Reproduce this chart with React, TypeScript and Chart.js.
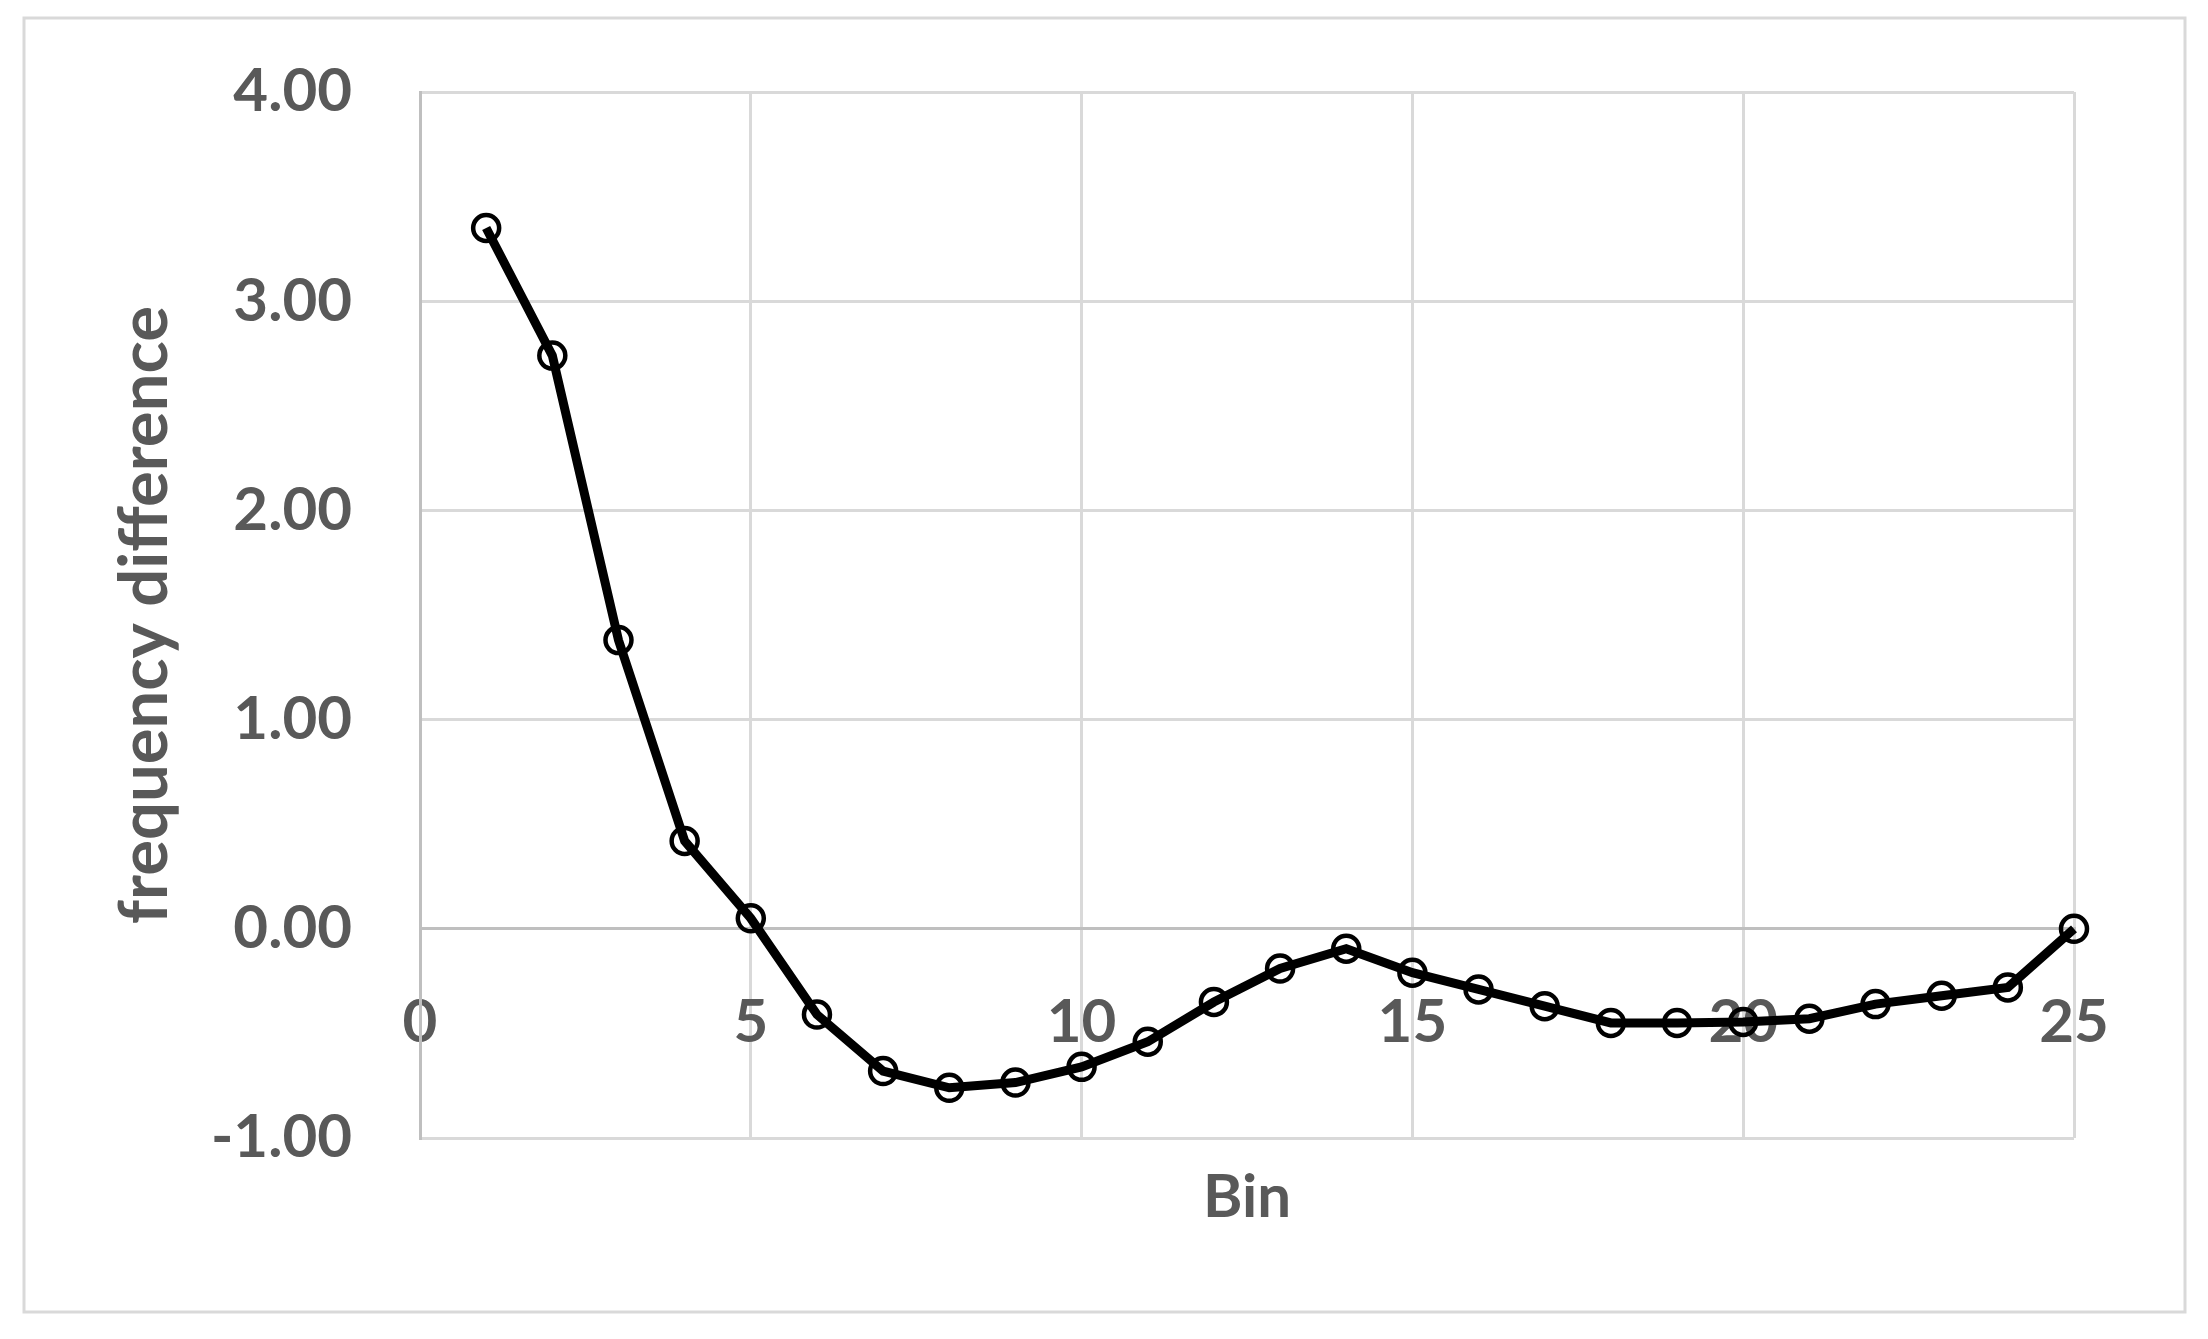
import React, { useEffect, useRef } from "react";
import { Chart, registerables } from "chart.js";

Chart.register(...registerables);

const bins: number[] = [1, 2, 3, 4, 5, 6, 7, 8, 9, 10, 11, 12, 13, 14, 15, 16, 17, 18, 19, 20, 21, 22, 23, 24, 25];
const freqDiff: number[] = [
  3.35, 2.74, 1.38, 0.42, 0.05, -0.41, -0.68, -0.76, -0.735, -0.66, -0.54, -0.35, -0.19,
  -0.095, -0.21, -0.29, -0.37, -0.45, -0.45, -0.445, -0.43, -0.36, -0.32, -0.28, 0.0,
];
const xTitle = "Bin";
const yTitle = "frequency difference";
const xMin = 0, xMax = 25, xStep = 5;
const yMin = -1, yMax = 4, yStep = 1;

const FONT = "Lato, 'Open Sans', sans-serif";
const TEXT = "#595959";
const GRID = "#d9d9d9";
const AXIS = "#bfbfbf";

const framePlugin = {
  id: "frame",
  beforeDraw(chart: any) {
    const { ctx, width, height } = chart;
    ctx.save();
    ctx.fillStyle = "#ffffff";
    ctx.fillRect(0, 0, width, height);
    ctx.strokeStyle = GRID;
    ctx.lineWidth = 3;
    ctx.strokeRect(24, 18, 2161, 1294);
    ctx.restore();
  },
};

export default function App() {
  const ref = useRef<HTMLCanvasElement>(null);
  useEffect(() => {
    if (!ref.current) return;
    const chart = new Chart(ref.current, {
      type: "line",
      data: {
        datasets: [
          {
            data: bins.map((b, i) => ({ x: b, y: freqDiff[i] })),
            borderColor: "#000000",
            borderWidth: 9,
            tension: 0,
            pointStyle: "circle",
            pointRadius: 13,
            pointBorderWidth: 4.5,
            pointBorderColor: "#000000",
            pointBackgroundColor: "rgba(0,0,0,0)",
            clip: false as any,
          },
        ],
      },
      options: {
        animation: false,
        responsive: false,
        devicePixelRatio: 1,
        layout: { padding: { left: 24, right: 134, top: 92, bottom: 105 } },
        plugins: {
          legend: { display: false },
          tooltip: { enabled: false },
          title: {
            display: true,
            text: xTitle,
            position: "bottom",
            fullSize: false,
            color: TEXT,
            font: { family: FONT, size: 60, weight: "bold" },
            padding: { top: 24, bottom: 0 },
          },
        },
        scales: {
          x: {
            type: "linear",
            min: xMin,
            max: xMax,
            position: { y: 0 } as any,
            grid: { color: GRID, lineWidth: 3, drawTicks: false },
            border: { color: AXIS, width: 3 },
            ticks: {
              stepSize: xStep,
              padding: 58,
              color: TEXT,
              maxRotation: 0,
              font: { family: FONT, size: 60, weight: "bold" },
            },
          },
          y: {
            type: "linear",
            min: yMin,
            max: yMax,
            position: "left",
            afterFit: (scale: any) => {
              scale.width = 396;
              scale.paddingTop = 0;
              scale.paddingBottom = 0;
            },
            grid: { color: GRID, lineWidth: 3, drawTicks: false },
            border: { color: AXIS, width: 3 },
            ticks: {
              stepSize: yStep,
              padding: 68,
              color: TEXT,
              font: { family: FONT, size: 60, weight: "bold" },
              callback: (v: any) => Number(v).toFixed(2),
            },
            title: {
              display: true,
              text: yTitle,
              color: TEXT,
              font: { family: FONT, size: 67, weight: "bold" },
              padding: { top: 81, bottom: 0 },
            },
          },
        },
      },
      plugins: [framePlugin],
    });
    return () => chart.destroy();
  }, []);
  return (
    <div style={{ position: "absolute", left: 0, top: 0, width: 2208, height: 1339 }}>
      <canvas ref={ref} width={2208} height={1339} style={{ width: 2208, height: 1339, display: "block" }} />
    </div>
  );
}
